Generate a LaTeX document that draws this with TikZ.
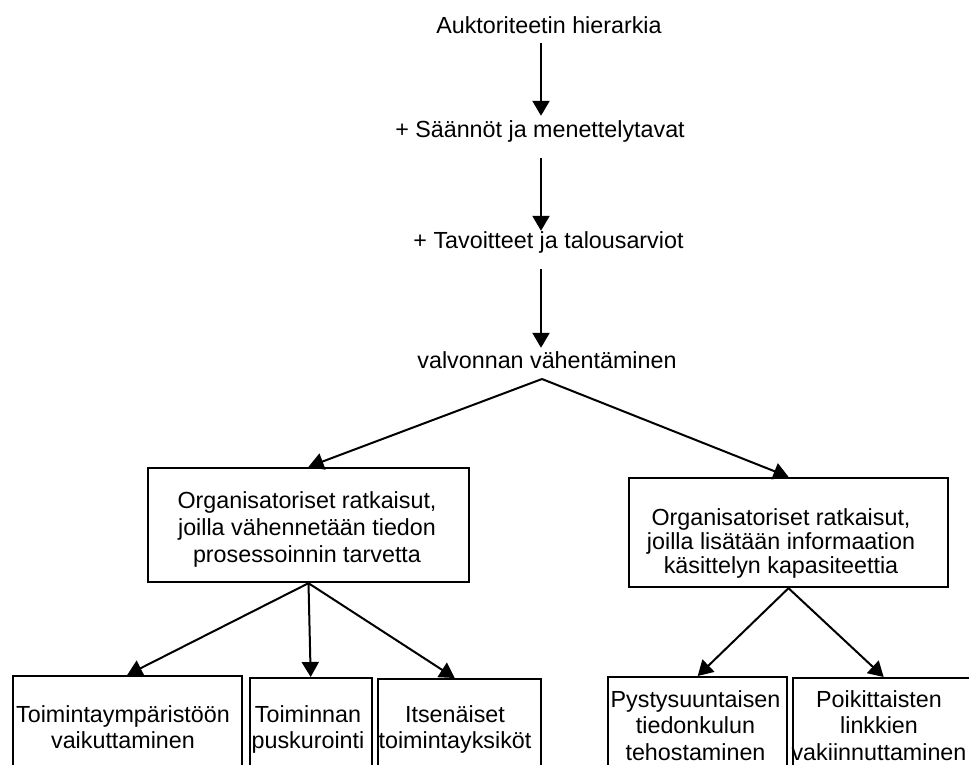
\documentclass[tikz,border=0pt]{standalone}
\usepackage{fontspec}
\setmainfont{Liberation Sans}
\usetikzlibrary{arrows.meta}
\begin{document}
\begin{tikzpicture}[x=1pt,y=-1pt,
  toplbl/.style={inner sep=0pt, text height=17pt, text depth=5pt,
    font=\fontsize{23.3}{27}\selectfont},
  % anchored at the baseline of the last line
  boxtxt/.style={inner sep=0pt, anchor=base, align=center,
    font=\fontsize{23.3}{#1}\selectfont},
  boxtxt/.default=27,
  frame/.style={draw, line width=2.4pt, inner sep=0pt},
  arr/.style={line width=2.2pt, -{Triangle[length=15pt,width=17pt]}},
  link/.style={line width=2pt, -{Triangle[length=15pt,width=17pt]}}]

\useasboundingbox (0,0) rectangle (969,765);
\clip (0,0) rectangle (969,765);

% vertical chain of control mechanisms
\coordinate (spine) at (541,0);
\node[toplbl] (t1) at (549,28) {Auktoriteetin hierarkia};
\node[toplbl] (t2) at (540,132) {+ Säännöt ja menettelytavat};
\node[toplbl] (t3) at (548.5,242) {+ Tavoitteet ja talousarviot};
\node[toplbl] (t4) at (547,362) {valvonnan vähentäminen};

\draw[arr, shorten <=4pt, shorten >=5pt] (t1.south -| spine) -- (t2.north -| spine);
\draw[arr, shorten <=15pt] (t2.south -| spine) -- (t3.north -| spine);
\draw[arr, shorten <=16pt, shorten >=3pt] (t3.south -| spine) -- (t4.north -| spine);

% the two groups of organisational solutions
\node[frame, minimum width=321pt, minimum height=114pt] (boxL) at (308.5,525) {};
\node[boxtxt=27] (txtL) at (307,562)
  {Organisatoriset ratkaisut,\\joilla vähennetään tiedon\\prosessoinnin tarvetta};

\node[frame, minimum width=319pt, minimum height=109pt] (boxR) at (788.5,532.5) {};
\node[boxtxt=24] (txtR) at (781,573)
  {Organisatoriset ratkaisut,\\joilla lisätään informaation\\ käsittelyn kapasiteettia};

\coordinate (apex) at (542,379);
\draw[link] (apex) -- (boxL.north);
\draw[link] (apex) -- (boxR.north);

% individual solutions (boxes run past the lower edge)
\node[frame, minimum width=229pt, minimum height=130pt, anchor=north west] (b1) at (11.5,675) {};
\node[frame, minimum width=122pt, minimum height=130pt, anchor=north west] (b2) at (248.5,677) {};
\node[frame, minimum width=163pt, minimum height=130pt, anchor=north west] (b3) at (377,678) {};
\node[frame, minimum width=179pt, minimum height=130pt, anchor=north west] (b4) at (607,676) {};
\node[frame, minimum width=181pt, minimum height=130pt, anchor=north west] (b5) at (792,677) {};

\node[boxtxt=26] (s1) at (123,748) {Toimintaympäristöön\\vaikuttaminen};
\node[boxtxt=26] (s2) at (308,748) {Toiminnan\\puskurointi};
\node[boxtxt=26] (s3) at (455,748) {Itsenäiset\\toimintayksiköt};
\node[boxtxt=26.5] (s4) at (695.5,760) {Pystysuuntaisen\\tiedonkulun\\tehostaminen};
\node[boxtxt=26.5] (s5) at (879,760) {Poikittaisten\\linkkien\\vakiinnuttaminen};

\draw[link] (boxL.south) -- (b1.north);
\draw[link] (boxL.south) -- (b2.north);
\draw[link] (boxL.south) -- ([xshift=-5pt]b3.north);
\draw[link] (boxR.south) -- (b4.north);
\draw[link] (boxR.south) -- (b5.north);
\end{tikzpicture}
\end{document}
